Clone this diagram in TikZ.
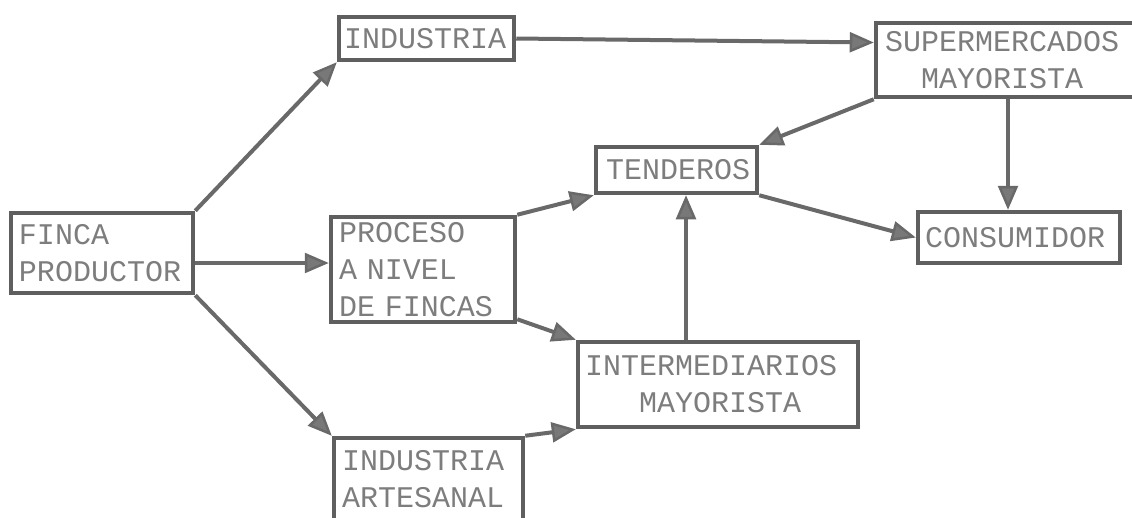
\documentclass[tikz,border=0pt]{standalone}
\usepackage{fontspec}
\newfontfamily\dotfont{Liberation Mono}
\usetikzlibrary{arrows.meta}
\definecolor{linecol}{RGB}{105,105,105}
\definecolor{boxcol}{RGB}{95,95,95}
\definecolor{txtcol}{RGB}{125,125,125}
\definecolor{tipfill}{RGB}{120,120,120}
\tikzset{
  box/.style={draw=boxcol, line width=4.5pt, rectangle, inner xsep=8pt, inner ysep=0pt,
    align=left, text=txtcol, font=\dotfont\fontsize{30}{37}\selectfont},
  flow/.style={draw=linecol, line width=4pt,
    -{Triangle[length=24pt,width=20pt,line width=2.5pt,fill=tipfill]}}
}
\begin{document}
\begin{tikzpicture}[x=1pt,y=-1pt]
\useasboundingbox (0,0) rectangle (1132,517);
% boxes
\node[box, minimum width=182pt, minimum height=80pt, text width=166pt] (finca) at (102,253) {FINCA\\PRODUCTOR};
\node[box, minimum width=175pt, minimum height=43pt, text width=165pt, inner xsep=4pt] (ind) at (426.5,38.5) {INDUSTRIA};
\node[box, minimum width=184pt, minimum height=105pt, text width=168pt] (proc) at (423,269.5) {PROCESO\\A NIVEL\\DE FINCAS};
\node[box, minimum width=189pt, minimum height=82pt, text width=173pt, inner xsep=8pt] (art) at (428.5,479) {INDUSTRIA\\ARTESANAL};
\node[box, minimum width=280pt, minimum height=85pt, text width=266pt, inner xsep=7pt] (inter) at (718,384.5) {INTERMEDIARIOS\\\phantom{MAY}MAYORISTA};
\node[box, minimum width=161pt, minimum height=46pt, text width=141pt, inner xsep=10pt] (tend) at (676.5,170) {TENDEROS};
\node[box, minimum width=264pt, minimum height=74pt, text width=246pt, inner xsep=9pt] (sup) at (1008,60) {SUPERMERCADOS\\\phantom{SU}MAYORISTA};
\node[box, minimum width=202pt, minimum height=51pt, text width=188pt, inner xsep=7pt] (cons) at (1019,237.5) {CONSUMIDOR};
% connectors
\draw[flow] (finca.north east) -- (ind.south west);
\draw[flow] ([yshift=-10pt]finca.east) coordinate (a2) -- (a2 -| proc.west);
\draw[flow] (finca.south east) -- (art.north west);
\draw[flow] (ind.east) -- ([yshift=-4pt]ind.east -| sup.west);
\draw[flow] (sup.south west) -- (tend.north east);
\draw[flow] (sup.south) -- (sup.south |- cons.north);
\draw[flow] (proc.north east) -- (tend.south west);
\draw[flow] ([yshift=5pt]proc.south east) -- (inter.north west);
\draw[flow] (art.north east) -- (inter.south west);
\draw[flow] ([xshift=-32pt]inter.north) coordinate (a10) -- (a10 |- tend.south);
\draw[flow] (tend.south east) -- (cons.west);
\end{tikzpicture}
\end{document}
